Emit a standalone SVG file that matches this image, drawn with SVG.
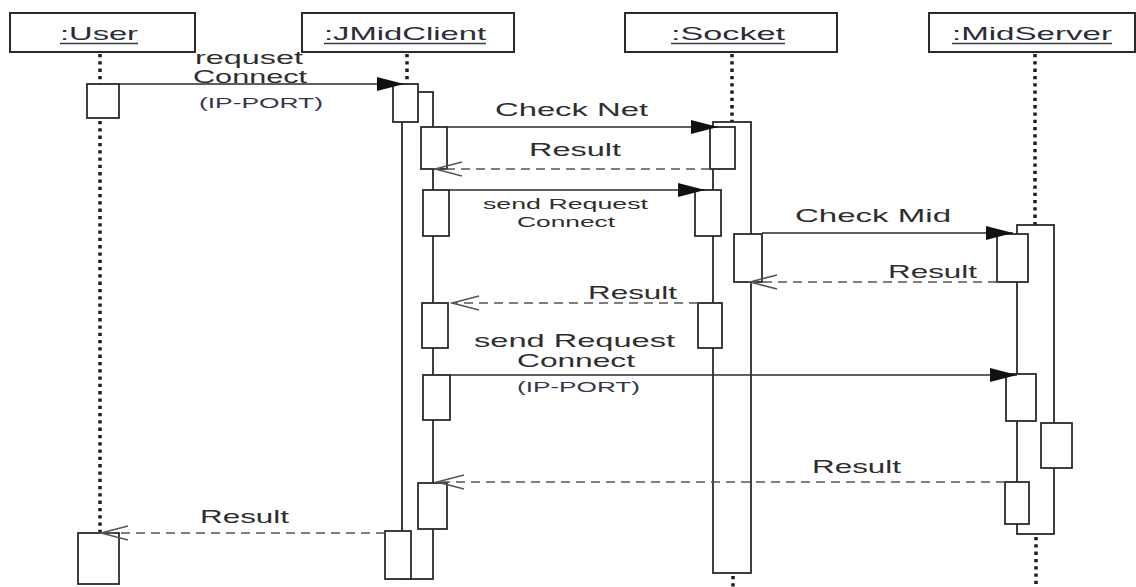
<svg xmlns="http://www.w3.org/2000/svg" width="1136" height="587" viewBox="0 0 1136 587">
  <defs>
    <style>
      .head { fill: #ffffff; stroke: #2b2b2b; stroke-width: 2; }
      .act { fill: #ffffff; stroke: #2b2b2b; stroke-width: 1.8; }
      .life { stroke: #1e1e1e; stroke-width: 3.5; stroke-dasharray: 3.3 4; fill: none; }
      .msg { stroke: #2b2b2b; stroke-width: 1.6; fill: none; }
      .ret { stroke: #555555; stroke-width: 1.6; stroke-dasharray: 9 6; fill: none; }
      .uline { stroke: #3a3a4a; stroke-width: 1.3; }
      text { font-family: "Liberation Sans", Arial, sans-serif; fill: #2e2e2e; }
      .hl { font-size: 18.5px; fill: #2c2c38; }
      .lbl { font-size: 18.5px; }
      .sm { font-size: 15.5px; }
      .ip { font-size: 15.5px; fill: #37334e; }
    </style>
    <marker id="solidHead" markerUnits="userSpaceOnUse" markerWidth="30" markerHeight="16" refX="27" refY="7" orient="auto">
      <path d="M0,0 L27,7 L0,14 z" fill="#111111"/>
    </marker>
    <marker id="openHead" markerUnits="userSpaceOnUse" markerWidth="30" markerHeight="18" refX="28" refY="8" orient="auto">
      <path d="M1,1 L28,8 L1,15" fill="none" stroke="#555555" stroke-width="1.5"/>
    </marker>
  </defs>

  <rect width="1136" height="587" fill="#ffffff"/>

  <!-- :User lifeline -->
  <g id="user">
    <rect class="head" x="10" y="13" width="185" height="39"/>
    <text class="hl" x="60" y="40" textLength="78" lengthAdjust="spacingAndGlyphs">:User</text>
    <line class="uline" x1="60" y1="43.5" x2="138" y2="43.5"/>
    <line class="life" x1="100" y1="54" x2="100" y2="84"/>
    <line class="life" x1="100" y1="121" x2="100" y2="532"/>
    <rect class="act" x="87" y="84" width="32" height="34"/>
    <rect class="act" x="78" y="533" width="41" height="51"/>
  </g>

  <!-- :JMidClient lifeline -->
  <g id="jmidclient">
    <rect class="head" x="302" y="13" width="212" height="39"/>
    <text class="hl" x="324" y="40" textLength="162" lengthAdjust="spacingAndGlyphs">:JMidClient</text>
    <line class="uline" x1="324" y1="43.5" x2="486" y2="43.5"/>
    <line class="life" x1="407" y1="54" x2="407" y2="84"/>
    <rect class="act" x="402" y="92" width="31" height="487"/>
    <rect class="act" x="393" y="84" width="25" height="38"/>
    <rect class="act" x="421" y="127" width="26" height="42"/>
    <rect class="act" x="423" y="190" width="26" height="46"/>
    <rect class="act" x="422" y="303" width="26" height="45"/>
    <rect class="act" x="423" y="375" width="27" height="45"/>
    <rect class="act" x="418" y="483" width="29" height="46"/>
    <rect class="act" x="385" y="531" width="26" height="48"/>
  </g>

  <!-- :Socket lifeline -->
  <g id="socket">
    <rect class="head" x="625" y="13" width="212" height="39"/>
    <text class="hl" x="671" y="40" textLength="114" lengthAdjust="spacingAndGlyphs">:Socket</text>
    <line class="uline" x1="671" y1="43.5" x2="785" y2="43.5"/>
    <line class="life" x1="732" y1="54" x2="732" y2="122"/>
    <line class="life" x1="733" y1="576" x2="733" y2="587"/>
    <rect class="act" x="713" y="122" width="38" height="451"/>
    <rect class="act" x="710" y="127" width="25" height="42"/>
    <rect class="act" x="695" y="190" width="26" height="46"/>
    <rect class="act" x="734" y="234" width="28" height="48"/>
    <rect class="act" x="698" y="303" width="24" height="45"/>
  </g>

  <!-- :MidServer lifeline -->
  <g id="midserver">
    <rect class="head" x="929" y="13" width="206" height="39"/>
    <text class="hl" x="952" y="40" textLength="160" lengthAdjust="spacingAndGlyphs">:MidServer</text>
    <line class="uline" x1="952" y1="43.5" x2="1112" y2="43.5"/>
    <line class="life" x1="1035" y1="54" x2="1035" y2="225"/>
    <line class="life" x1="1036" y1="537" x2="1036" y2="587"/>
    <rect class="act" x="1017" y="225" width="37" height="309"/>
    <rect class="act" x="997" y="234" width="31" height="48"/>
    <rect class="act" x="1006" y="374" width="30" height="47"/>
    <rect class="act" x="1041" y="423" width="31" height="45"/>
    <rect class="act" x="1005" y="482" width="24" height="42"/>
  </g>

  <!-- messages -->
  <g id="connectors">
    <line class="msg" x1="119" y1="84" x2="404" y2="84" marker-end="url(#solidHead)"/>
    <line class="msg" x1="447" y1="127" x2="718" y2="127" marker-end="url(#solidHead)"/>
    <line class="ret" x1="710" y1="169" x2="435" y2="169" marker-end="url(#openHead)"/>
    <line class="msg" x1="449" y1="190" x2="705" y2="190" marker-end="url(#solidHead)"/>
    <line class="msg" x1="762" y1="233" x2="1013" y2="233" marker-end="url(#solidHead)"/>
    <line class="ret" x1="997" y1="282" x2="750" y2="282" marker-end="url(#openHead)"/>
    <line class="ret" x1="698" y1="303" x2="452" y2="303" marker-end="url(#openHead)"/>
    <line class="msg" x1="450" y1="375" x2="1017" y2="375" marker-end="url(#solidHead)"/>
    <line class="ret" x1="1005" y1="482" x2="437" y2="482" marker-end="url(#openHead)"/>
    <line class="ret" x1="385" y1="533" x2="101" y2="533" marker-end="url(#openHead)"/>
  </g>

  <!-- message labels -->
  <g id="labels">
    <text class="lbl" x="195" y="64" font-size="17.5" textLength="108" lengthAdjust="spacingAndGlyphs">requset</text>
    <text class="lbl" x="193" y="83" font-size="17.5" textLength="114" lengthAdjust="spacingAndGlyphs">Connect</text>
    <text class="ip" x="199" y="108" textLength="124" lengthAdjust="spacingAndGlyphs">(IP-PORT)</text>
    <text class="lbl" x="495" y="116" textLength="153" lengthAdjust="spacingAndGlyphs">Check Net</text>
    <text class="lbl" x="529" y="156" textLength="92" lengthAdjust="spacingAndGlyphs">Result</text>
    <text class="sm" x="483" y="209" textLength="165" lengthAdjust="spacingAndGlyphs">send Request</text>
    <text class="sm" x="517" y="227" textLength="98" lengthAdjust="spacingAndGlyphs">Connect</text>
    <text class="lbl" x="795" y="222" textLength="156" lengthAdjust="spacingAndGlyphs">Check Mid</text>
    <text class="lbl" x="888" y="278" textLength="89" lengthAdjust="spacingAndGlyphs">Result</text>
    <text class="lbl" x="588" y="299" textLength="89" lengthAdjust="spacingAndGlyphs">Result</text>
    <text class="lbl" x="474" y="347" textLength="201" lengthAdjust="spacingAndGlyphs">send Request</text>
    <text class="lbl" x="517" y="367" textLength="118" lengthAdjust="spacingAndGlyphs">Connect</text>
    <text class="ip" x="517" y="392" textLength="123" lengthAdjust="spacingAndGlyphs">(IP-PORT)</text>
    <text class="lbl" x="812" y="473" textLength="89" lengthAdjust="spacingAndGlyphs">Result</text>
    <text class="lbl" x="200" y="523" textLength="89" lengthAdjust="spacingAndGlyphs">Result</text>
  </g>
</svg>
